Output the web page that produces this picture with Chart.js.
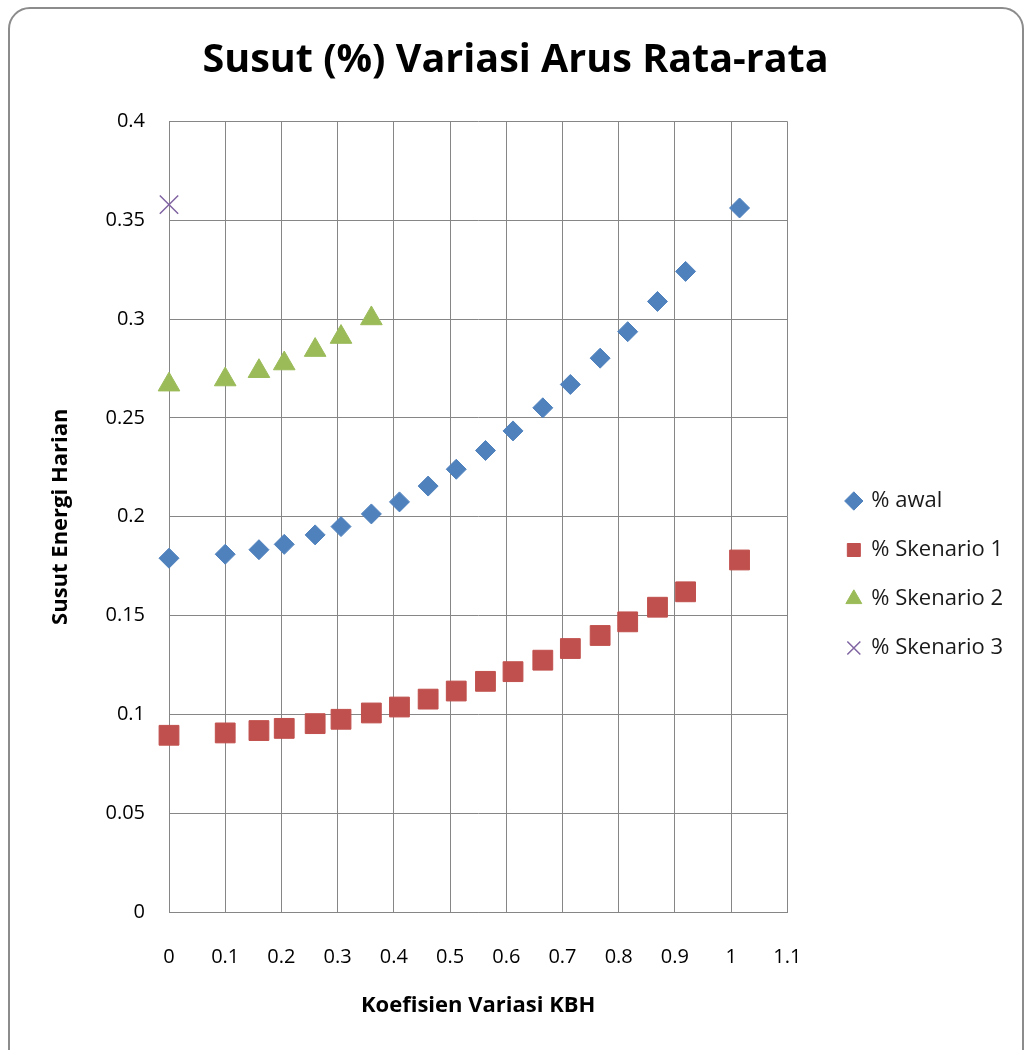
<!DOCTYPE html>
<html>
<head>
<meta charset="utf-8">
<title>Susut (%) Variasi Arus Rata-rata</title>
<script src="https://cdn.jsdelivr.net/npm/chart.js@4.4.1/dist/chart.umd.min.js"></script>
<style>
  html, body { margin: 0; padding: 0; background: #fff; overflow: hidden; }
  #wrap { position: relative; width: 1025px; height: 1050px; }
  #frame {
    position: absolute; left: 8px; top: 7px; width: 1012px; height: 1100px;
    border: 2px solid #8c8c8c; border-radius: 22px;
  }
  canvas { position: absolute; left: 0; top: 0; }
</style>
</head>
<body>
<div id="wrap">
  <div id="frame"></div>
  <canvas id="myChart" width="1025" height="1050"></canvas>
</div>
<script>
// Koefisien Variasi KBH (x)
const kbh = [0, 0.1, 0.16, 0.205, 0.26, 0.306, 0.36, 0.41, 0.461, 0.511, 0.563, 0.612, 0.665, 0.714, 0.767, 0.816, 0.869, 0.919, 1.015];

// Susut energi harian per skenario
const awal = [0.179, 0.181, 0.1833, 0.186, 0.1908, 0.195, 0.2014, 0.2075, 0.2155, 0.224, 0.2335, 0.2434, 0.2551, 0.2669, 0.2802, 0.2936, 0.3089, 0.3241, 0.3562];
const skenario1 = [0.0894, 0.0906, 0.0918, 0.0929, 0.0953, 0.0975, 0.1007, 0.1037, 0.1077, 0.1118, 0.1167, 0.1216, 0.1274, 0.1333, 0.1399, 0.1468, 0.1542, 0.162, 0.1781];
const skenario2 = [0.2668, 0.2694, 0.2736, 0.2775, 0.2843, 0.2909, 0.3003];
const skenario3 = [0.3579];

const xTicks = { min: 0, max: 1.1, step: 0.1 };
const yTicks = { min: 0, max: 0.4, step: 0.05 };

const toPoints = (ys) => ys.map((y, i) => ({ x: kbh[i], y: y }));

const fontFamily = "'Open Sans', sans-serif";
Chart.defaults.font.family = fontFamily;
Chart.defaults.color = '#1a1a1a';

const data = {
  datasets: [{
    label: '% awal',
    data: toPoints(awal),
    pointStyle: 'rectRot',
    pointRadius: 10,
    pointHoverRadius: 10,
    backgroundColor: '#4F81BD',
    borderColor: '#4F81BD',
    borderWidth: 1,
    clip: false,
  }, {
    label: '% Skenario 1',
    data: toPoints(skenario1),
    pointStyle: 'rect',
    pointRadius: 14,
    pointHoverRadius: 14,
    backgroundColor: '#C0504D',
    borderColor: '#C0504D',
    borderWidth: 1,
    clip: false,
  }, {
    label: '% Skenario 2',
    data: toPoints(skenario2),
    pointStyle: 'triangle',
    pointRadius: 12.5,
    pointHoverRadius: 12.5,
    backgroundColor: '#9BBB59',
    borderColor: '#9BBB59',
    borderWidth: 1,
    clip: false,
  }, {
    label: '% Skenario 3',
    data: toPoints(skenario3),
    pointStyle: 'crossRot',
    pointRadius: 13,
    pointHoverRadius: 13,
    backgroundColor: '#8064A2',
    borderColor: '#8064A2',
    borderWidth: 1.5,
    clip: false,
  }]
};

const gridColor = '#868686';

const config = {
  type: 'scatter',
  data: data,
  options: {
    responsive: false,
    devicePixelRatio: 1,
    animation: false,
    layout: { padding: { left: 18, right: 12, top: 0, bottom: 0 } },
    plugins: {
      title: {
        display: true,
        text: 'Susut (%) Variasi Arus Rata-rata',
        color: '#000',
        font: { size: 39.5, weight: 'bold' },
        padding: { top: 37, bottom: 37 },
      },
      legend: {
        position: 'right',
        align: 'start',
        maxWidth: 260,
        // empty title used as a spacer to push the items down
        title: { display: true, text: ' ', font: { size: 20 }, padding: { top: 439, bottom: 0 } },
        labels: {
          usePointStyle: true,
          boxWidth: 13,
          boxHeight: 13,
          padding: 27,
          color: '#1a1a1a',
          font: { size: 22 },
        },
      },
      tooltip: { enabled: false },
    },
    scales: {
      x: {
        type: 'linear',
        min: xTicks.min,
        max: xTicks.max,
        ticks: {
          stepSize: xTicks.step,
          padding: 33,
          color: '#000',
          font: { size: 20 },
          callback: (v) => String(+v.toFixed(1)),
        },
        grid: { color: gridColor, drawTicks: false },
        border: { color: gridColor },
        title: {
          display: true,
          text: 'Koefisien Variasi KBH',
          color: '#000',
          font: { size: 22, weight: 'bold' },
          padding: { top: 0, bottom: 31 },
        },
        afterFit: (scale) => { scale.height = 138; },
      },
      y: {
        min: yTicks.min,
        max: yTicks.max,
        ticks: {
          stepSize: yTicks.step,
          padding: 24,
          color: '#000',
          font: { size: 20 },
          callback: (v) => String(+v.toFixed(2)),
        },
        grid: { color: gridColor, drawTicks: false },
        border: { color: gridColor },
        title: {
          display: true,
          text: 'Susut Energi Harian',
          color: '#000',
          font: { size: 22, weight: 'bold' },
          padding: { top: 30, bottom: 0 },
        },
        afterFit: (scale) => { scale.width = 151; },
      },
      // empty right-hand gap between plot and legend
      gap: {
        type: 'linear',
        position: 'right',
        display: true,
        grid: { display: false },
        border: { display: false },
        ticks: { display: false },
        afterFit: (scale) => { scale.width = 33; },
      },
    },
  },
};

const myChart = new Chart(document.getElementById('myChart'), config);
</script>
</body>
</html>
